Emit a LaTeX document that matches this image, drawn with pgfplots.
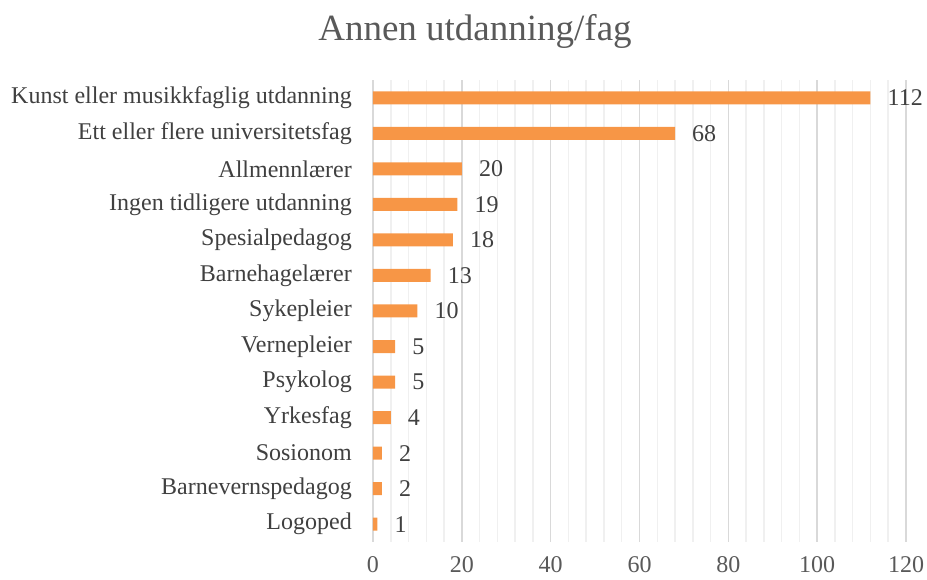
\documentclass[border=0pt]{standalone}
\usepackage{fontspec}
\setmainfont{Liberation Serif}
\usepackage{pgfplots}
\pgfplotsset{compat=1.18}
\definecolor{barorange}{HTML}{F79646}
\definecolor{labgray}{HTML}{404040}
\definecolor{titlegray}{HTML}{595959}
\definecolor{majgrid}{HTML}{D9D9D9}
\definecolor{mingrid}{HTML}{F0F0F0}
\begin{document}
\begin{tikzpicture}
\useasboundingbox (0,0) rectangle (927pt,580pt);
\node[anchor=center, text=titlegray, inner sep=0pt, font=\fontsize{37}{40}\selectfont] at (475pt,549pt) {Annen utdanning/fag};
\begin{axis}[
  at={(373pt,38pt)}, anchor=south west,
  scale only axis, width=533pt, height=462pt,
  xbar, bar width=13pt,
  xmin=0, xmax=120, ymin=-0.5, ymax=12.5,
  clip=false,
  /pgf/number format/assume math mode=true,
  xtick={0,20,...,120}, minor x tick num=4,
  ytick={0,...,12},
  yticklabels={Logoped,Barnevernspedagog,Sosionom,Yrkesfag,Psykolog,Vernepleier,Sykepleier,Barnehagelærer,Spesialpedagog,Ingen tidligere utdanning,Allmennlærer,Ett eller flere universitetsfag,Kunst eller musikkfaglig utdanning},
  axis line style={draw=none},
  major tick length=0pt, minor tick length=0pt,
  xmajorgrids, xminorgrids,
  major grid style={draw=majgrid, line width=1.5pt},
  minor grid style={draw=mingrid, line width=1.5pt},
  tick label style={font=\fontsize{24}{26}\selectfont},
  xticklabel style={inner sep=0pt, anchor=north, yshift=-14pt, text=titlegray},
  yticklabel style={inner sep=0pt, anchor=east, xshift=-21pt, text=labgray},
  nodes near coords,
  nodes near coords style={anchor=west, inner sep=0pt, xshift=17pt, text=labgray, font=\fontsize{24}{26}\selectfont},
]
\addplot[draw=none, fill=barorange] coordinates {
  (1,0) (2,1) (2,2) (4,3) (5,4) (5,5) (10,6) (13,7) (18,8) (19,9) (20,10) (68,11) (112,12)
};
\end{axis}
\end{tikzpicture}
\end{document}
